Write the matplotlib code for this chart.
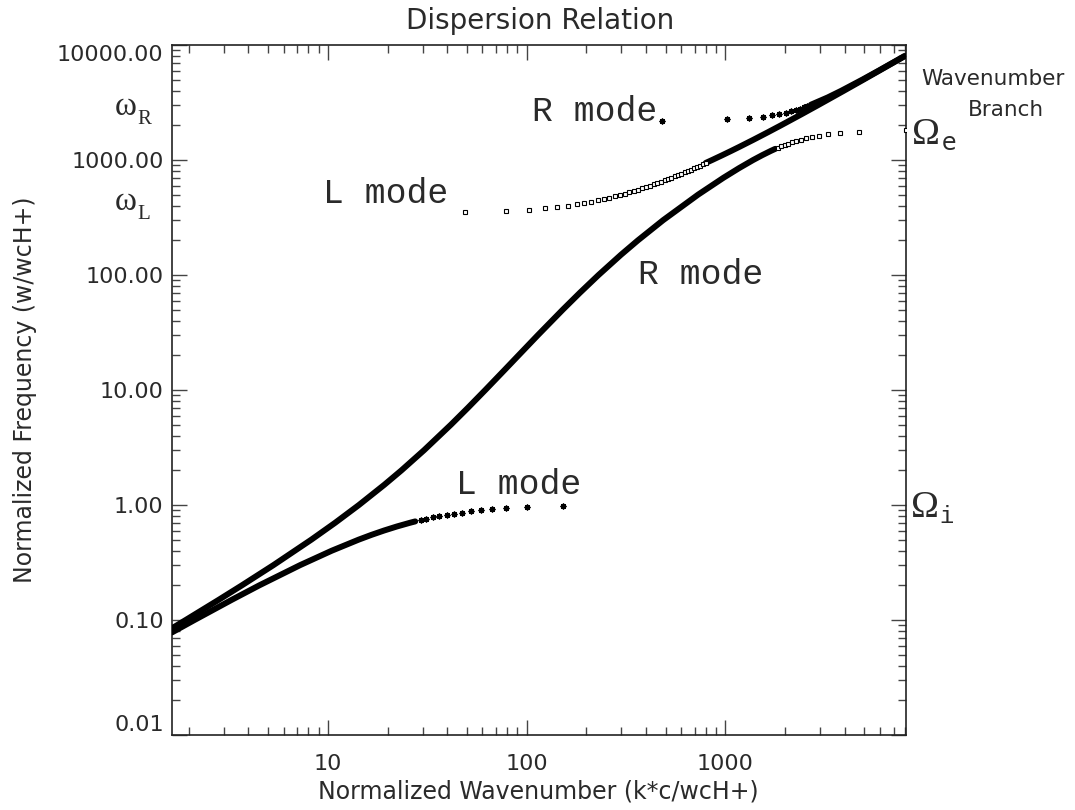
import matplotlib
matplotlib.use('Agg')
import matplotlib.pyplot as plt
from matplotlib.ticker import LogLocator, NullFormatter


# frequencies (w/wcH+) and wavenumbers (k*c/wcH+)

# R mode, lower (whistler) branch - dense part
whis_w = [0.085, 0.1, 0.15, 0.2, 0.3, 0.5, 0.7, 1.0, 1.5, 2.0, 3.0, 5.0, 7.0,
          10.0, 15.0, 20.0, 30.0, 50.0, 70.0, 100.0, 150.0, 200.0, 300.0,
          500.0, 700.0, 850.0, 1000.0, 1100.0, 1200.0, 1250.0]
whis_k = [1.655, 1.934, 2.837, 3.703, 5.338, 8.284, 10.90, 14.36, 19.28, 23.49,
          30.55, 41.70, 50.71, 62.04, 77.72, 91.10, 114.0, 152.2, 185.3, 230.1,
          298.4, 362.8, 486.4, 728.9, 976.5, 1171.0, 1378.0, 1528.0, 1691.0,
          1780.0]
# R mode, lower branch - points near the electron resonance
whis_sq_w = [1284, 1318, 1354, 1390, 1428, 1466, 1506, 1546, 1588, 1631, 1675,
             1720, 1766, 1814]
whis_sq_k = [1844, 1911, 1987, 2068, 2162, 2265, 2388, 2530, 2710, 2941, 3261,
             3758, 4702, 8085]

# L mode, lower (ion cyclotron) branch
llow_w = [0.078, 0.1, 0.15, 0.2, 0.3, 0.4, 0.5, 0.55, 0.6, 0.65, 0.7, 0.72]
llow_k = [1.65, 2.14, 3.30, 4.53, 7.27, 10.47, 14.33, 16.61, 19.22, 22.26,
          25.89, 27.56]
llow_sp_w = [0.74, 0.76, 0.78, 0.80, 0.82, 0.84, 0.86, 0.88, 0.90, 0.92,
             0.94, 0.96, 0.98]
llow_sp_k = [29.4, 31.4, 33.7, 36.4, 39.6, 43.2, 47.3, 52.5, 58.8, 67.0,
             79.0, 100.0, 152.0]

# L mode, upper branch (from the L cutoff)
lup_sq_w = [352, 361, 371, 381, 391, 402, 413, 424, 435, 447, 459, 471, 484,
            497, 511, 525, 539, 553, 568, 584, 600, 616, 632, 650, 667, 685,
            704, 723, 742, 762, 783, 804, 826, 848, 871, 894, 919, 943]
lup_sq_k = [48.9, 78.9, 103.4, 124.0, 142.5, 161.2, 178.7, 195.3, 211.3,
            228.1, 244.4, 260.3, 277.1, 293.7, 311.2, 328.4, 345.4, 362.1,
            379.9, 398.7, 417.4, 435.8, 454.1, 474.6, 493.8, 514.1, 535.3,
            556.4, 577.5, 599.5, 622.6, 645.6, 669.5, 693.4, 718.4, 743.2,
            770.1, 795.9]
lup_w = [943, 1000, 1100, 1200, 1300, 1500, 1750, 2000, 2500, 3000, 4000,
         5000, 8000]
lup_k = [795.9, 856.8, 963.1, 1068.7, 1173.7, 1382.6, 1641.6, 1899.3, 2411.6,
         2921.0, 3935.0, 4944.7, 7961.7]

# R mode, upper branch (from the R cutoff)
rup_sp_w = [2196, 2255, 2316, 2379, 2443, 2509, 2577, 2646, 2718, 2791, 2866,
            2944, 3023]
rup_sp_k = [479.8, 1016.6, 1315.9, 1536.7, 1714.1, 1867.7, 2005.7, 2131.2,
            2251.1, 2364.2, 2473.7, 2582.0, 2687.2]
rup_w = [3023, 3500, 4000, 5000, 6000, 8000]
rup_k = [2687.2, 3266.0, 3822.0, 4879.6, 5908.9, 7938.7]

yticks = [0.01, 0.1, 1, 10, 100, 1000, 10000]
ylabels = ['0.01', '0.10', '1.00', '10.00', '100.00', '1000.00', '10000.00']
xticks = [10, 100, 1000]
xlabels = ['10', '100', '1000']


W, H = 1075, 810
fig = plt.figure(figsize=(W / 100, H / 100), dpi=100)
ax = fig.add_axes([172 / W, 1 - 735 / H, (906 - 172) / W, (735 - 45) / H])

txtc = '#2a2a2a'


def ftext(x, y, s, **kw):
    # place text in figure pixel coordinates (origin top left)
    kw.setdefault('color', txtc)
    fig.text(x / W, 1 - y / H, s, **kw)


band = dict(color='black', lw=4.3, solid_capstyle='round', zorder=3)
ast = dict(ls='none', marker=(8, 2, 0), ms=4.2, mew=1.0, color='black', zorder=4)
sq = dict(ls='none', marker='s', ms=3.3, mew=0.8, mfc='white', mec='black', zorder=4)

ax.plot(whis_k, whis_w, **band)
ax.plot(whis_sq_k, whis_sq_w, **sq)
ax.plot(llow_k, llow_w, **band)
ax.plot(llow_sp_k, llow_sp_w, **ast)
ax.plot(lup_sq_k, lup_sq_w, **sq)
ax.plot(lup_k, lup_w, **band)
ax.plot(rup_sp_k, rup_sp_w, **ast)
ax.plot(rup_k, rup_w, **band)

ax.set_xscale('log')
ax.set_yscale('log')
ax.set_xlim(1.65, 8085)
ax.set_ylim(0.01, 10000)

ax.set_xticks(xticks)
ax.set_xticklabels(xlabels)
ax.set_yticks(yticks)
ax.set_yticklabels(ylabels)
ax.xaxis.set_minor_locator(LogLocator(base=10, subs=range(2, 10), numticks=20))
ax.yaxis.set_minor_locator(LogLocator(base=10, subs=range(2, 10), numticks=20))
ax.xaxis.set_minor_formatter(NullFormatter())
ax.yaxis.set_minor_formatter(NullFormatter())

for s in ax.spines.values():
    s.set_linewidth(1.2)
    s.set_color('#222222')
ax.tick_params(which='both', direction='in', top=True, right=True,
               color='#444444', labelcolor=txtc)
ax.tick_params(which='major', length=11, width=1.0)
ax.tick_params(which='minor', length=5.5, width=1.0)
ax.tick_params(axis='x', pad=14, labelsize=16)
ax.tick_params(axis='y', pad=6, labelsize=16)

# end labels stay inside the axis range, like the original
ylabs = ax.get_yticklabels()
ylabs[-1].set_va('top')
ylabs[0].set_va('bottom')

# mode labels
mono = dict(family='Liberation Mono', fontsize=25, color=txtc,
            ha='left', va='baseline')
ax.text(106.3, 2183, 'R mode', **mono)
ax.text(9.44, 422.7, 'L mode', **mono)
ax.text(363, 83.6, 'R mode', **mono)
ax.text(44.1, 1.246, 'L mode', **mono)

# cutoff / resonance labels
serif = dict(family='Liberation Serif', ha='left', va='baseline')
ftext(115, 115, 'ω', fontsize=24, **serif)
ftext(137, 124, 'R', fontsize=15, **serif)
ftext(115, 210, 'ω', fontsize=24, **serif)
ftext(137, 219, 'L', fontsize=15, **serif)
ftext(912, 144, 'Ω', fontsize=27, **serif)
ftext(942, 150, 'e', fontsize=17, family='DejaVu Sans', ha='left', va='baseline')
ftext(911, 517, 'Ω', fontsize=27, **serif)
ftext(939, 523, 'i', fontsize=17, family='Liberation Mono', ha='left', va='baseline')

ftext(993, 79, 'Wavenumber', fontsize=15.5, ha='center', va='center')
ftext(1006, 110, 'Branch', fontsize=15.5, ha='center', va='center')

ftext(540, 29, 'Dispersion Relation', fontsize=20, ha='center', va='baseline')
ftext(538, 799, 'Normalized Wavenumber (k*c/wcH+)', fontsize=17,
      ha='center', va='baseline')
ftext(25, 390, 'Normalized Frequency (w/wcH+)', fontsize=17, rotation=90,
      ha='center', va='center')

fig.savefig('out.png', dpi=100)
